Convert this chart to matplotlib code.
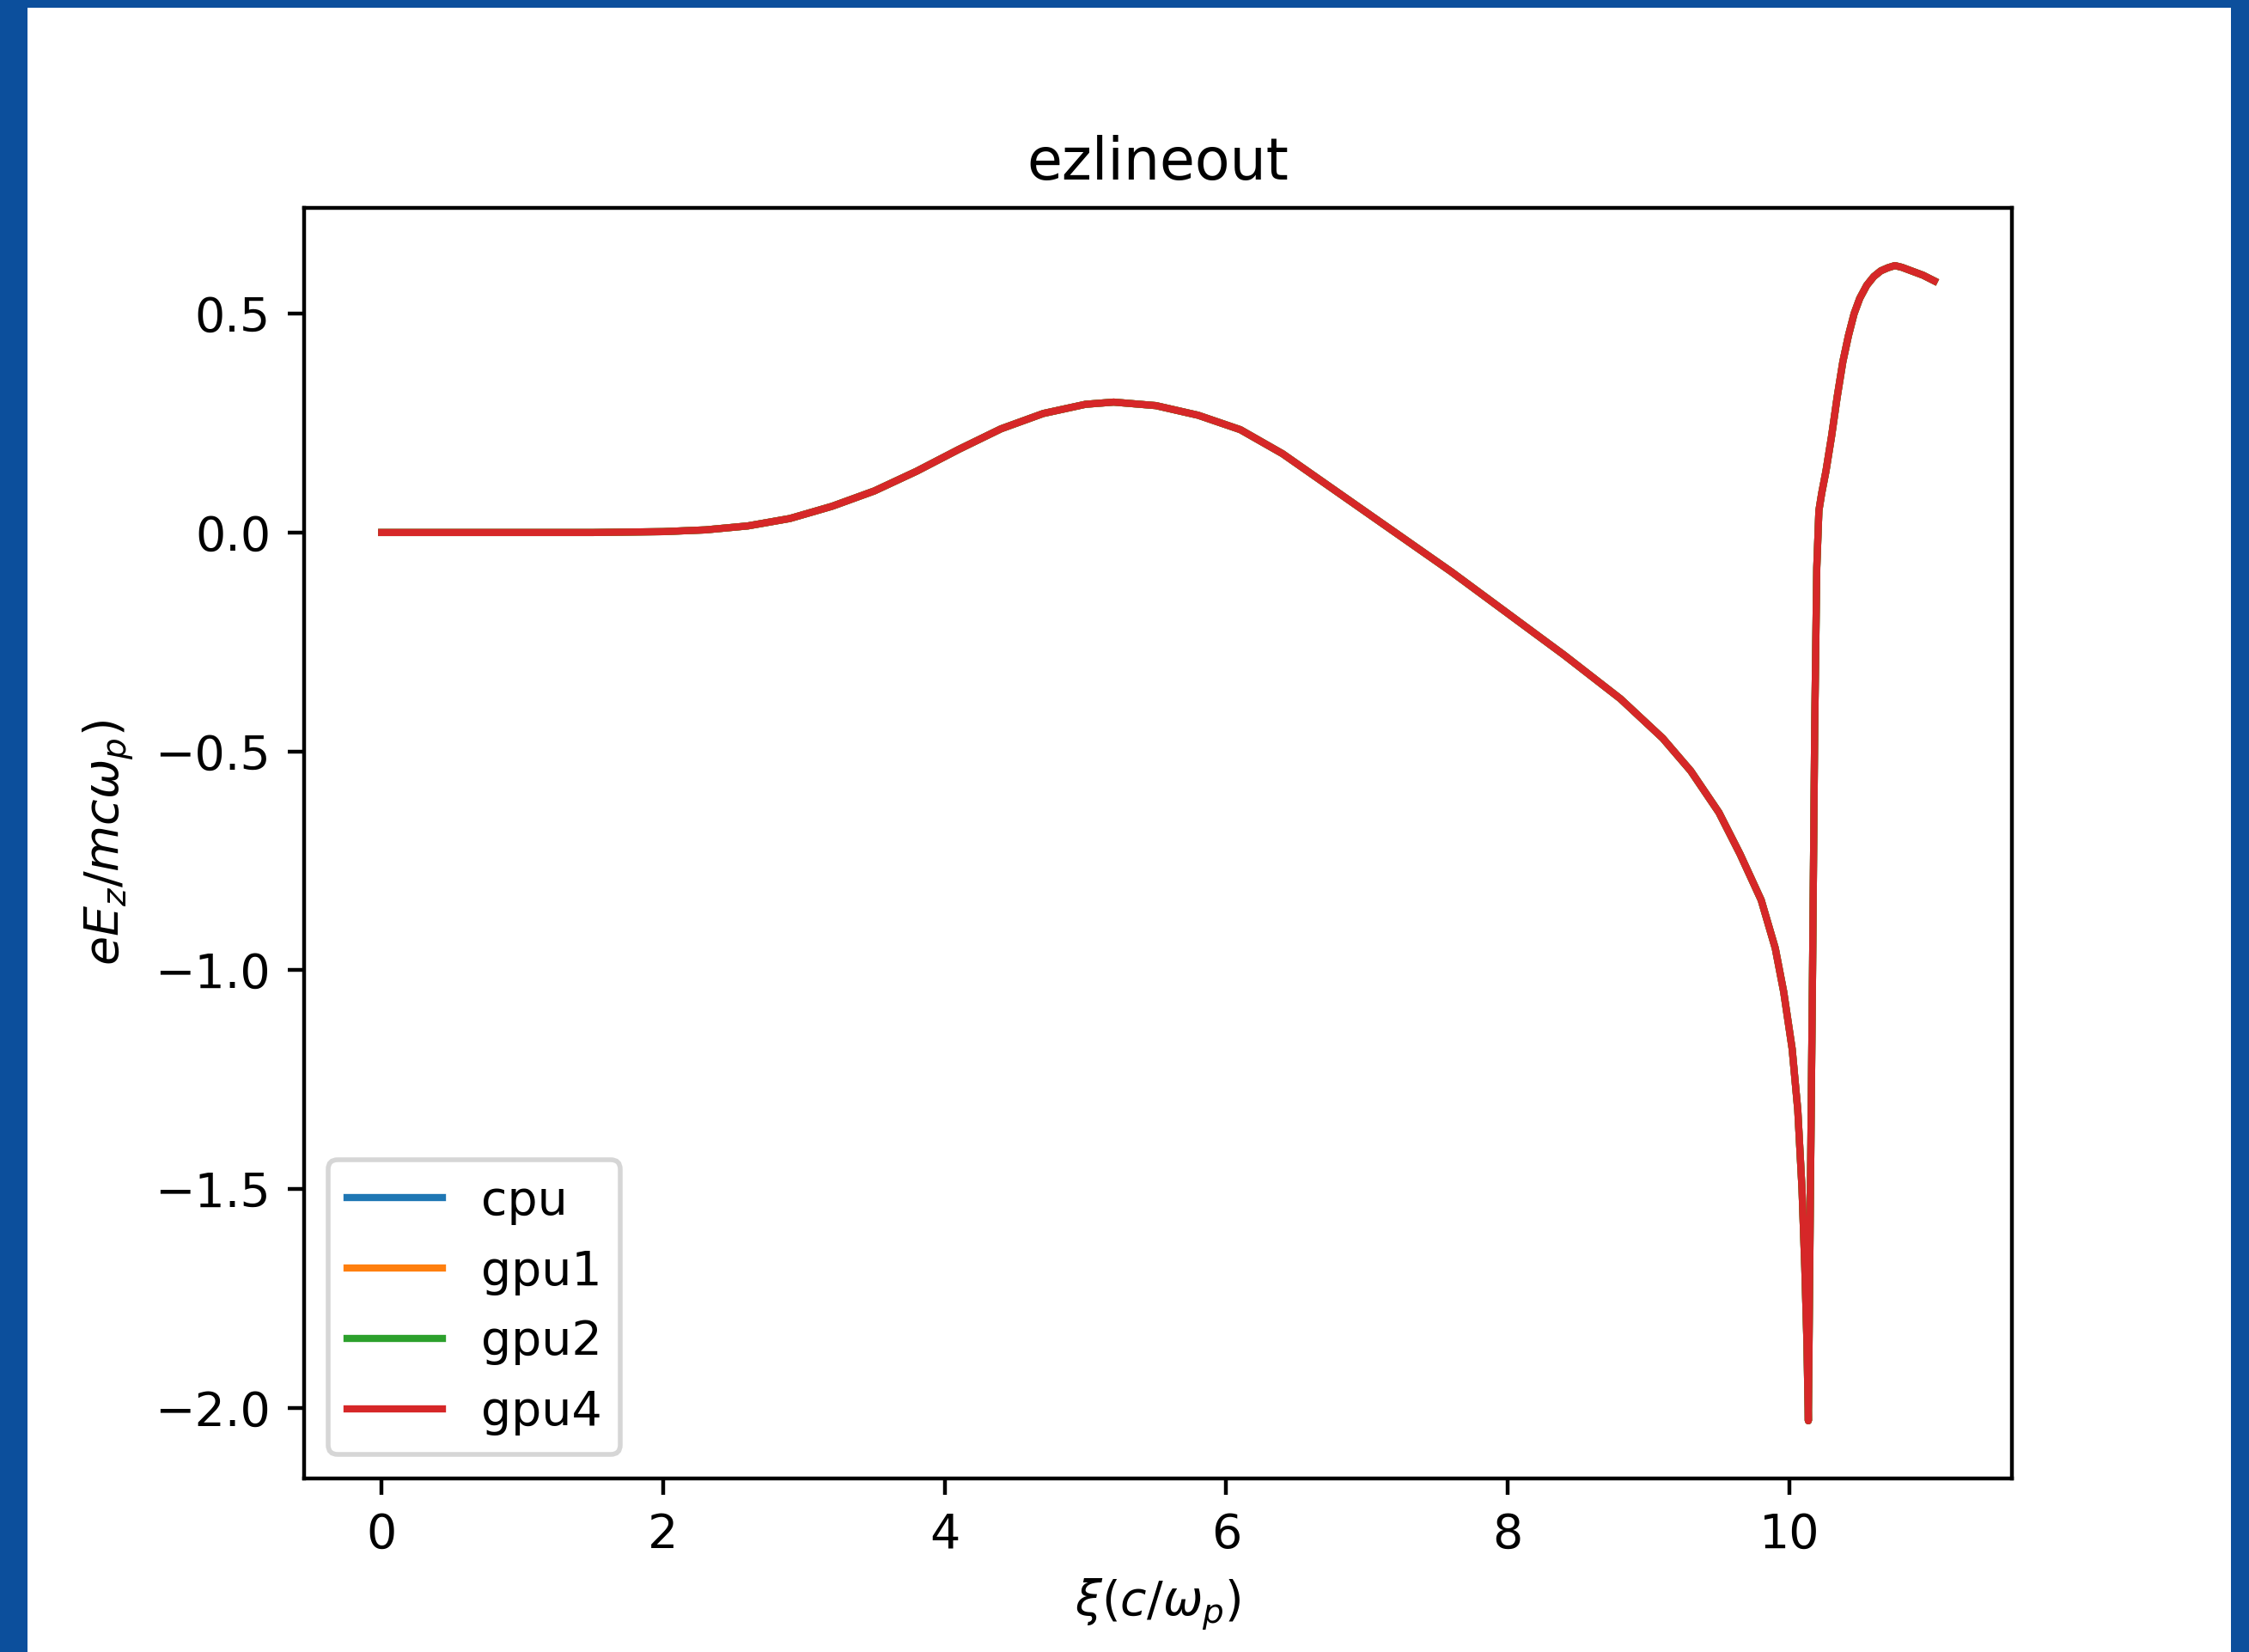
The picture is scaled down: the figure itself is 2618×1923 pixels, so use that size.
import matplotlib
matplotlib.use("Agg")
import matplotlib.pyplot as plt
from matplotlib.patches import Rectangle

# xi positions (c/omega_p)
xi = [0.0, 0.5, 1.0, 1.5, 2.0, 2.3, 2.6, 2.9, 3.2, 3.5, 3.8, 4.1, 4.4, 4.7,
      5.0, 5.2, 5.5, 5.8, 6.1, 6.4, 6.8, 7.2, 7.6, 8.0, 8.4, 8.8, 9.1, 9.3,
      9.5, 9.65, 9.8, 9.9, 9.96, 10.02, 10.06, 10.09, 10.11, 10.125, 10.135,
      10.15, 10.165, 10.18, 10.195, 10.21, 10.23, 10.26, 10.3, 10.34, 10.38,
      10.42, 10.46, 10.5, 10.55, 10.6, 10.65, 10.7, 10.75, 10.8, 10.85,
      10.95, 11.03]

# on-axis Ez lineout, all four runs lie on top of each other
cpu_ez = [0.0, 0.0, 0.0, 0.0, 0.002, 0.006, 0.015, 0.032, 0.06, 0.095, 0.14,
          0.19, 0.237, 0.272, 0.293, 0.298, 0.29, 0.268, 0.235, 0.18, 0.09,
          0.0, -0.09, -0.185, -0.28, -0.38, -0.47, -0.545, -0.64, -0.735,
          -0.84, -0.95, -1.05, -1.18, -1.32, -1.5, -1.68, -1.85, -2.03,
          -1.5, -1.0, -0.45, -0.08, 0.05, 0.09, 0.14, 0.22, 0.31, 0.39,
          0.45, 0.5, 0.535, 0.565, 0.585, 0.598, 0.605, 0.61, 0.606, 0.6,
          0.588, 0.575]
gpu1_ez = list(cpu_ez)
gpu2_ez = list(cpu_ez)
gpu4_ez = list(cpu_ez)

runs = ["cpu", "gpu1", "gpu2", "gpu4"]
series = [cpu_ez, gpu1_ez, gpu2_ez, gpu4_ez]

fig = plt.figure(figsize=(26.18 / 4, 19.23 / 4), dpi=400)
ax = fig.add_axes([0.1352, 0.105, 0.7594, 0.7692])

for name, ez in zip(runs, series):
    ax.plot(xi, ez, label=name)

ax.set_title("ezlineout")
ax.set_xlabel(r"$\xi(c/\omega_p)$")
ax.set_ylabel(r"$eE_z/mc\omega_p)$")
ax.legend(loc="lower left")

# blue frame around the screenshot (left, top, right edges)
blue = "#0c4f9c"
W, H = 2618, 1923
for x0, y0, w, h in [(0, 0, 32 / W, 1), (0, 1 - 9 / H, 1, 9 / H),
                     (2597 / W, 0, 21 / W, 1)]:
    fig.add_artist(Rectangle((x0, y0), w, h, transform=fig.transFigure,
                             facecolor=blue, edgecolor="none", zorder=10))

fig.savefig("out.png", dpi=400)
